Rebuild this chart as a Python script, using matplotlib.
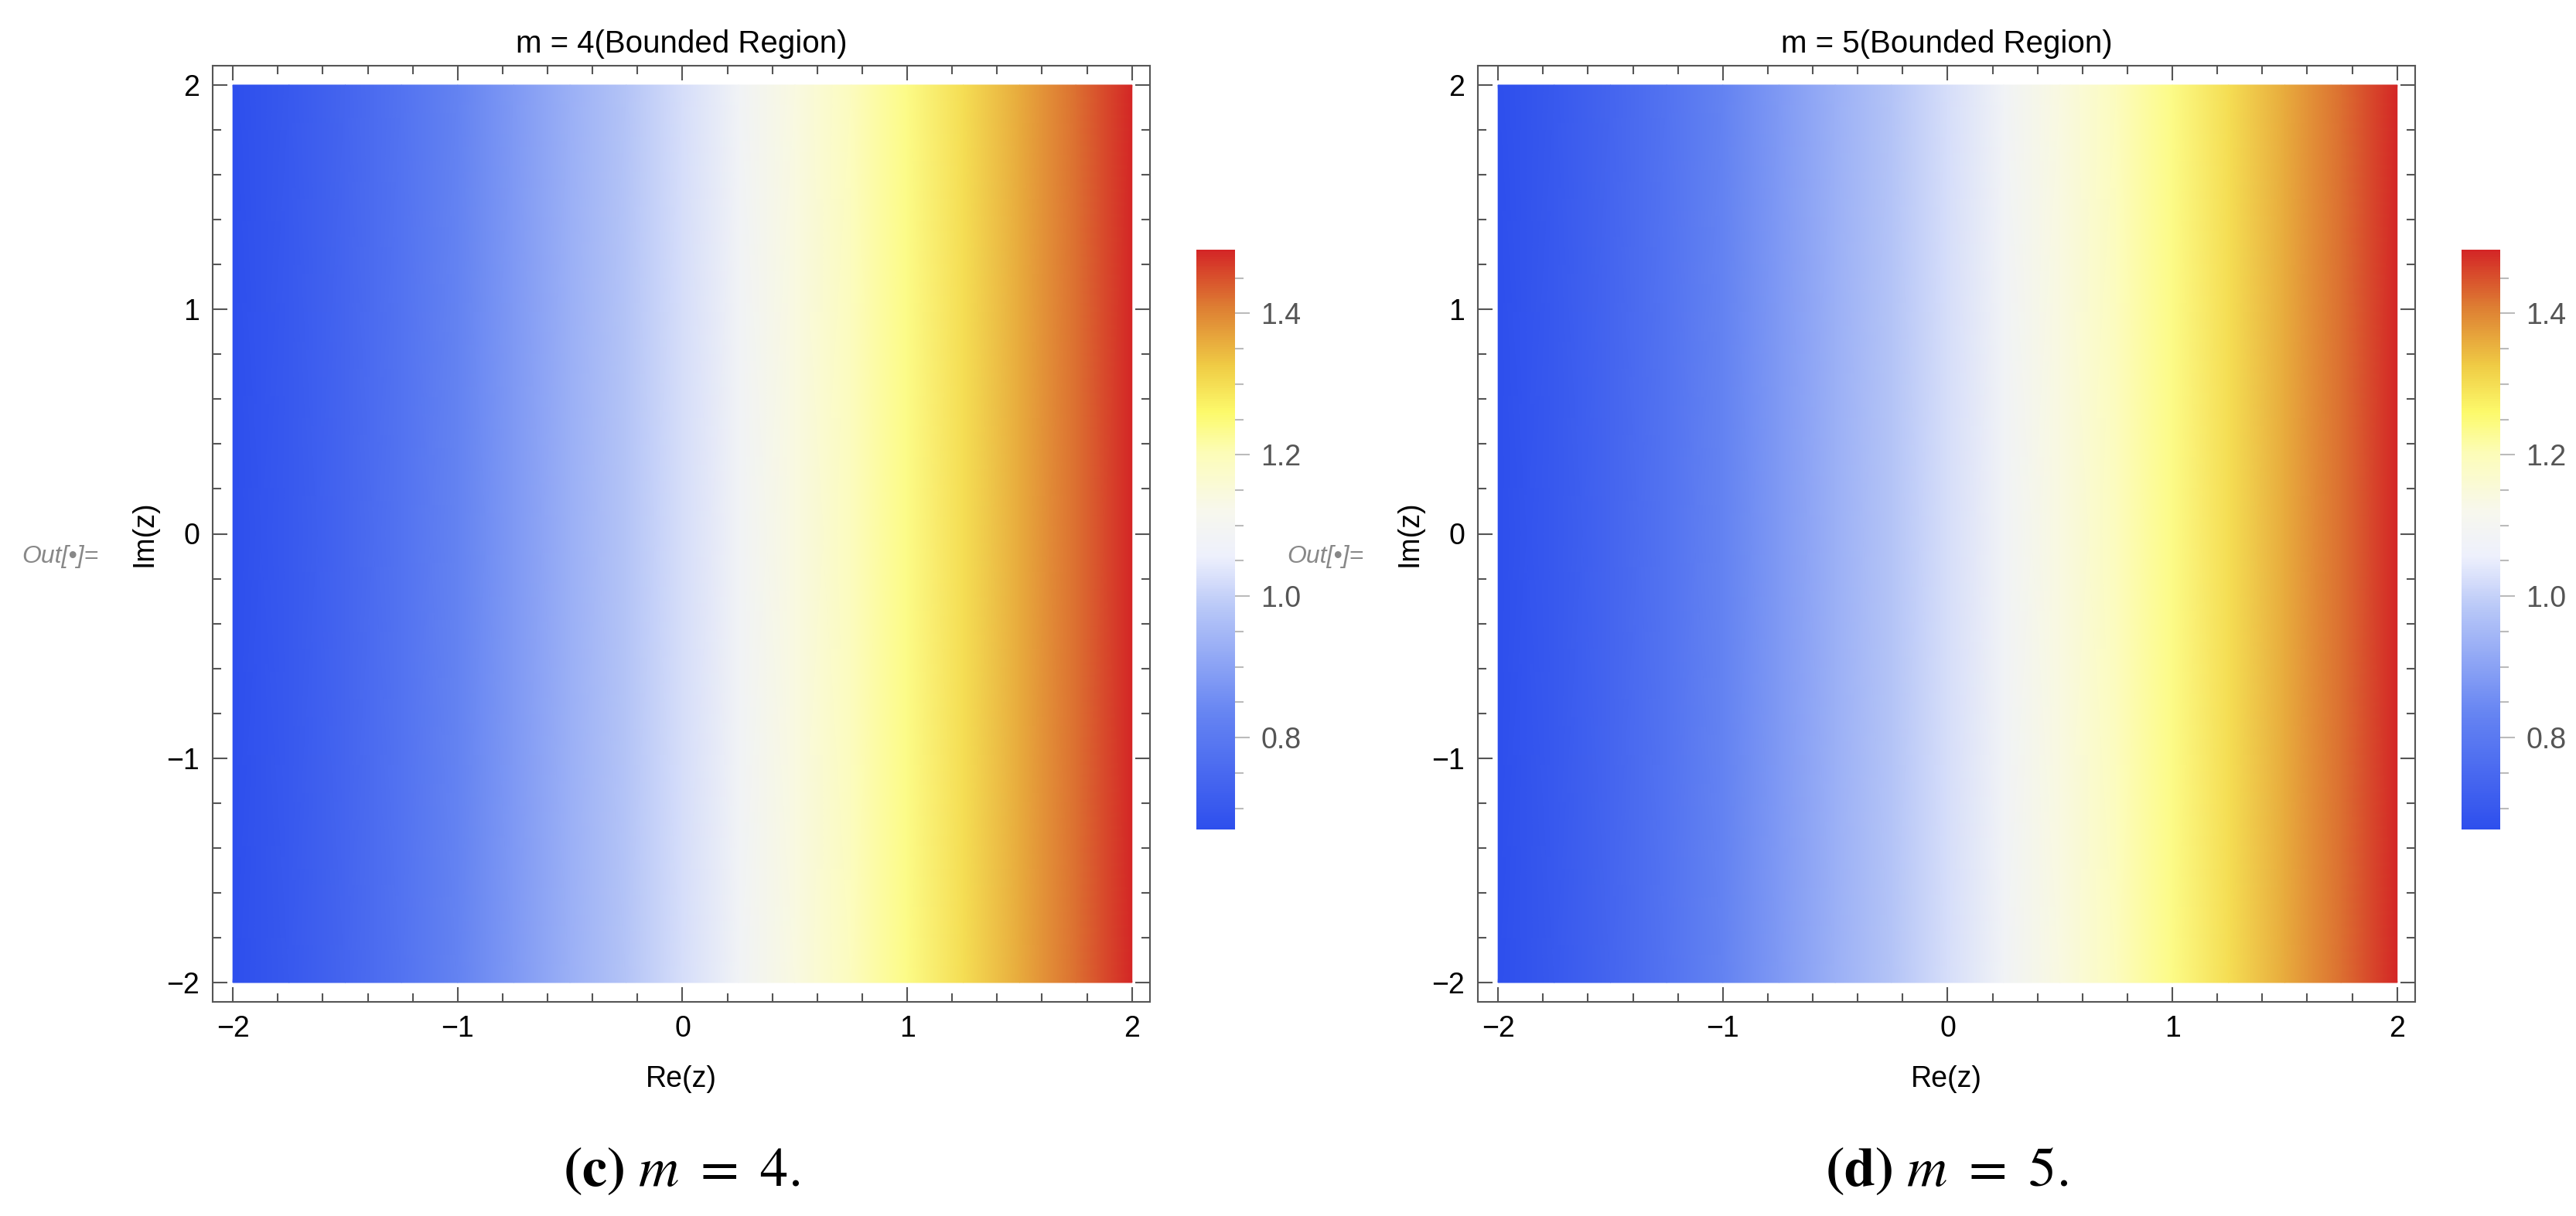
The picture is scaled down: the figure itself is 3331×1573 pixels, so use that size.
import numpy as np
import matplotlib
matplotlib.use("Agg")
import matplotlib.pyplot as plt
from matplotlib.colors import LinearSegmentedColormap
from matplotlib.ticker import MultipleLocator

plt.rcParams['font.family'] = ['Liberation Sans', 'DejaVu Sans']
plt.rcParams['mathtext.fontset'] = 'stix'

titles = ["m = 4(Bounded Region)", "m = 5(Bounded Region)"]
captions = [r"$\mathbf{(c)}\ m\ =\ 4.$", r"$\mathbf{(d)}\ m\ =\ 5.$"]
re_samples = [-2.0, -1.75, -1.5, -1.25, -1.0, -0.75, -0.5, -0.25, 0.0, 0.25, 0.5, 0.75, 1.0, 1.25, 1.5, 1.75, 2.0]
values = [0.67, 0.70, 0.74, 0.78, 0.83, 0.88, 0.93, 0.975, 1.025, 1.08, 1.14, 1.19, 1.24, 1.30, 1.36, 1.42, 1.49]
cbar_ticks = [0.8, 1.0, 1.2, 1.4]
vmin, vmax = 0.67, 1.49

cmap = LinearSegmentedColormap.from_list("temp", [
    (0.00, (0.18, 0.31, 0.93)),
    (0.20, (0.40, 0.52, 0.95)),
    (0.38, (0.72, 0.78, 0.97)),
    (0.47, (0.93, 0.94, 0.99)),
    (0.55, (0.97, 0.97, 0.93)),
    (0.65, (0.99, 0.99, 0.72)),
    (0.72, (0.99, 0.98, 0.42)),
    (0.80, (0.94, 0.80, 0.27)),
    (0.90, (0.87, 0.50, 0.20)),
    (1.00, (0.83, 0.15, 0.15)),
])

W, H = 3331, 1573
fig = plt.figure(figsize=(W/100, H/100), dpi=100)
frame_c = '#555555'
offset = 1636
for i in range(2):
    ax = fig.add_axes([(275 + i*offset)/W, 1-1296/H, 1212/W, 1211/H])
    X, Y = np.meshgrid(re_samples, [-2.0, 2.0])
    Z = np.tile(values, (2, 1))
    m = ax.pcolormesh(X, Y, Z, cmap=cmap, vmin=vmin, vmax=vmax, shading='gouraud')
    ax.set_xlim(-2.09, 2.08)
    ax.set_ylim(-2.086, 2.086)
    ax.xaxis.set_minor_locator(MultipleLocator(0.2))
    ax.yaxis.set_minor_locator(MultipleLocator(0.2))
    ax.tick_params(which='both', direction='in', top=True, right=True, color=frame_c, width=1.5)
    ax.tick_params(which='major', length=14, labelsize=27, pad=12)
    ax.tick_params(which='minor', length=8)
    ax.set_xticks([-2, -1, 0, 1, 2]); ax.set_xticklabels(['\u22122', '\u22121', '0', '1', '2'])
    ax.set_yticks([-2, -1, 0, 1, 2]); ax.set_yticklabels(['\u22122', '\u22121', '0', '1', '2'])
    for s in ax.spines.values():
        s.set_color(frame_c); s.set_linewidth(1.5)
    cx = (275 + 606 + i*offset)/W
    fig.text(cx, 1-57/H, titles[i], ha='center', va='center', fontsize=29)
    fig.text(cx, 1-1396/H, "Re(z)", ha='center', va='center', fontsize=27)
    fig.text((187 + i*offset)/W, 1-690/H, "Im(z)", ha='center', va='center', fontsize=27, rotation=90)
    fig.text((78 + i*offset)/W, 1-720/H, "Out[\u2022]=", ha='center', va='center', fontsize=23,
             style='italic', color='#888888')
    fig.text(cx, 1-1515/H, captions[i], ha='center', va='center', fontsize=52)

    cax = fig.add_axes([(1547 + i*offset)/W, 1-1073/H, 50/W, 750/H])
    cb = fig.colorbar(m, cax=cax)
    cb.set_ticks(cbar_ticks)
    cb.ax.yaxis.set_minor_locator(MultipleLocator(0.05))
    cb.ax.tick_params(which='both', direction='out', color='#bbbbbb', width=1.5, labelsize=27,
                      labelcolor='#555555')
    cb.ax.tick_params(which='major', length=14, pad=10)
    cb.ax.tick_params(which='minor', length=8)
    cb.outline.set_visible(False)

fig.savefig("out.png", dpi=100)
